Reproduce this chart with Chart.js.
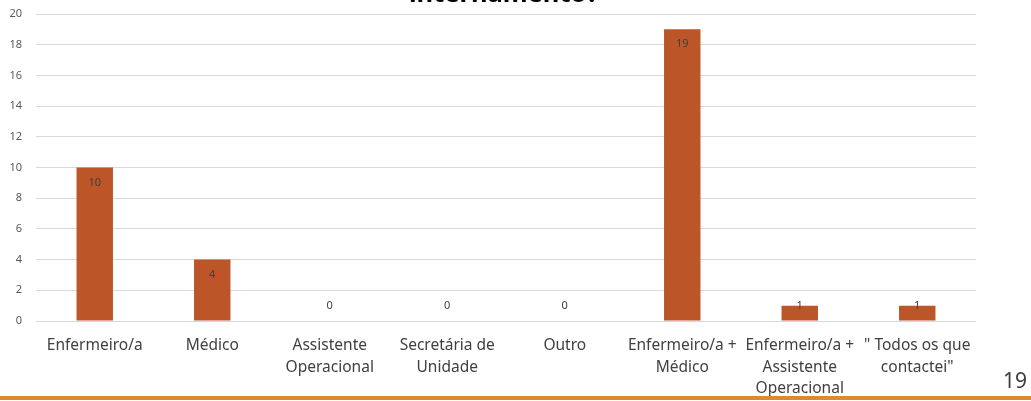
<!DOCTYPE html>
<html>
<head>
    <meta charset="utf-8" />
    <title>Internamento</title>
    <script src="https://cdn.jsdelivr.net/npm/chart.js@4.4.1/dist/chart.umd.min.js"></script>
    <style>
        body { margin: 0; background: #fff; overflow: hidden; }
        #wrap { position: relative; width: 1031px; height: 401px; }
        #titulo { position: absolute; left: 409px; top: -20px; font: bold 25.5px "Noto Sans", sans-serif; color: #000; line-height: 25px; white-space: nowrap; }
        #pagina { position: absolute; left: 1003px; top: 366px; font: 21px "Noto Sans", sans-serif; color: #404040; }
        #linha { position: absolute; left: 0; top: 396px; width: 1031px; height: 4px; background: #dc8a32; }
        canvas { position: absolute; left: 0; top: 0; }
    </style>
</head>
<body>
<div id="wrap">
    <canvas id="grafico" width="1031" height="401"></canvas>
    <div id="titulo">internamento?</div>
    <div id="pagina">19</div>
    <div id="linha"></div>
</div>

<script>
    // categorias e valores
    var categorias = [
        ["Enfermeiro/a"],
        ["Médico"],
        ["Assistente", "Operacional"],
        ["Secretária de", "Unidade"],
        ["Outro"],
        ["Enfermeiro/a +", "Médico"],
        ["Enfermeiro/a +", "Assistente", "Operacional"],
        ["\" Todos os que", "contactei\""]
    ];
    var valores = [10, 4, 0, 0, 0, 19, 1, 1];
    var ticksY = [0, 2, 4, 6, 8, 10, 12, 14, 16, 18, 20];

    // rotulos de dados tipo "inside end" do Excel
    var rotulos = {
        id: "rotulos",
        afterDatasetsDraw: function (chart) {
            var ctx = chart.ctx;
            var meta = chart.getDatasetMeta(0);
            var base = chart.scales.y.getPixelForValue(0);
            ctx.save();
            ctx.font = "11px 'Noto Sans', sans-serif";
            ctx.fillStyle = "#404040";
            ctx.textAlign = "center";
            ctx.textBaseline = "middle";
            meta.data.forEach(function (bar, i) {
                var y = Math.min(bar.y + 15, base - 15);
                ctx.fillText(valores[i], bar.x, y);
            });
            ctx.restore();
        }
    };

    var ctx = document.getElementById("grafico").getContext("2d");
    var grafico = new Chart(ctx, {
        type: "bar",
        data: {
            labels: categorias,
            datasets: [{
                data: valores,
                backgroundColor: "#bc5628",
                categoryPercentage: 1,
                barPercentage: 0.31
            }]
        },
        options: {
            responsive: false,
            animation: false,
            layout: { padding: { top: 14, right: 55, left: 0, bottom: 0 } },
            plugins: { legend: { display: false }, tooltip: { enabled: false } },
            scales: {
                x: {
                    grid: { display: false, drawTicks: false },
                    border: { display: false },
                    ticks: {
                        autoSkip: false, maxRotation: 0, minRotation: 0,
                        color: "#404040", padding: 14,
                        font: { family: "'Noto Sans', sans-serif", size: 15.5, lineHeight: 1.39 }
                    },
                    afterFit: function (s) { s.height = 80; }
                },
                y: {
                    min: 0, max: 20,
                    afterBuildTicks: function (s) { s.ticks = ticksY.map(function (v) { return { value: v }; }); },
                    grid: { color: "#d9d9d9", drawTicks: true, tickLength: 14, tickColor: "rgba(0,0,0,0)" },
                    border: { display: false },
                    ticks: {
                        color: "#595959", padding: 0,
                        font: { family: "'Noto Sans', sans-serif", size: 11 }
                    },
                    afterFit: function (s) { s.width = 36; }
                }
            }
        },
        plugins: [rotulos]
    });
</script>
</body>
</html>
